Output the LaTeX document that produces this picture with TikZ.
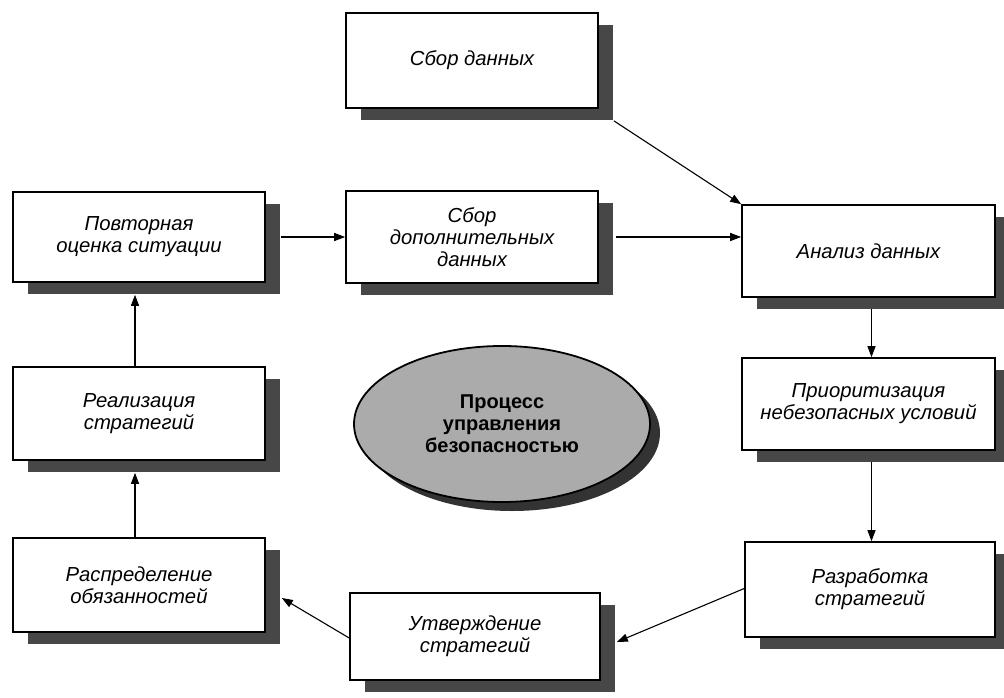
\documentclass[tikz,border=0pt]{standalone}
\usepackage{fontspec}
\setmainfont{Liberation Sans}
\usetikzlibrary{arrows.meta,shadows,shapes.geometric}
\begin{document}
\begin{tikzpicture}[x=1pt,y=-1pt,
  box/.style={draw=black, line width=1.6pt, fill=white, minimum width=252pt,
    minimum height=92pt, align=center, inner sep=2pt,
    font=\fontsize{20.3}{22}\selectfont\itshape,
    drop shadow={shadow xshift=15pt, shadow yshift=-12pt, fill=black!72, opacity=1}},
  conn/.style={line width=1.1pt, -{Triangle[length=11pt,width=8pt]}},
  hub/.style={ellipse, draw=black, line width=1.8pt, fill=black!33,
    minimum width=296pt, minimum height=156pt, align=center, inner sep=1pt,
    font=\bfseries\fontsize{20}{22}\selectfont,
    drop shadow={shadow xshift=10pt, shadow yshift=-9pt, fill=black!80, opacity=1}}
]
\useasboundingbox (0,0) rectangle (1004,698);
\fill[white] (0,0) rectangle (1004,698);

\node[box, minimum height=95pt] (sbor) at (472,60.5) {Сбор данных};
\node[box, minimum height=90pt] (povt) at (139,237) {Повторная\\оценка ситуации};
\node[box] (dop) at (472,237) {Сбор\\дополнительных\\данных};
\node[box, minimum width=253pt] (analiz) at (868.5,251) {Анализ данных};
\node[box, minimum width=253pt] (prior) at (868.5,404) {Приоритизация\\небезопасных условий};
\node[box, minimum height=93pt] (real) at (139,413.5) {Реализация\\стратегий};
\node[box, minimum height=94pt] (raspr) at (139,585) {Распределение\\обязанностей};
\node[box, minimum width=250pt, minimum height=95pt] (razrab) at (870,589.5) {Разработка\\стратегий};
\node[box, minimum width=250pt, minimum height=87pt] (utv) at (475,636.5) {Утверждение\\стратегий};

\node[hub] (proc) at (502,424) {Процесс\\управления\\безопасностью};

\coordinate (pa) at ([xshift=3pt]analiz.south);
\coordinate (pp) at ([xshift=3pt]prior.south);

\draw[conn] ([xshift=15pt,yshift=-12pt]sbor.south east) -- (analiz.north west);
\draw[conn] ([xshift=17pt]dop.east) -- (analiz.west |- dop.east);
\draw[conn] ([xshift=15pt]povt.east) -- (dop.west);
\draw[conn] ([yshift=-11pt]pa) -- (pa |- prior.north);
\draw[conn] ([yshift=-11pt]pp) -- (pp |- razrab.north);
\draw[conn] ([yshift=1pt]razrab.west) -- ([xshift=16pt,yshift=-5.5pt]utv.east);
\draw[conn] ([yshift=-1.5pt]utv.west) -- ([xshift=16pt,yshift=-13pt]raspr.east);
\draw[conn] ([xshift=-4pt]raspr.north) -- ([xshift=-4pt,yshift=-12pt]real.south);
\draw[conn] ([xshift=-4pt]real.north) -- ([xshift=-4pt,yshift=-12pt]povt.south);
\end{tikzpicture}
\end{document}
